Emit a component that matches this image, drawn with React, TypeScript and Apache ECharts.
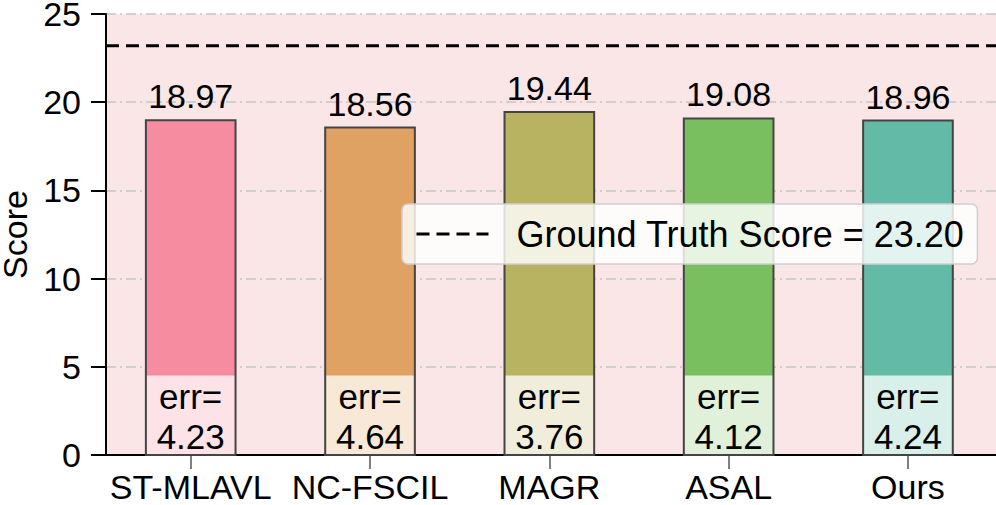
import React, { useEffect, useRef } from "react";
import * as echarts from "echarts";

const categories = ["ST-MLAVL", "NC-FSCIL", "MAGR", "ASAL", "Ours"];
const scores = [18.97, 18.56, 19.44, 19.08, 18.96];
const errors = [4.23, 4.64, 3.76, 4.12, 4.24];
const groundTruth = 23.2;
const errBoxTop = 4.5;
const barColors = ["#f68c9f", "#dfa262", "#b8b360", "#79bf60", "#63bba7"];
const boxColors = ["#fde2e8", "#f7e8d7", "#f0eedb", "#e1f1d9", "#d9efea"];
const yTicks = [0, 5, 10, 15, 20, 25];

const XMIN = -0.4724;
const XMAX = 4.491;
const FONT = "'Liberation Sans', Arial, Helvetica, sans-serif";

export default function App() {
  const ref = useRef<HTMLDivElement>(null);
  useEffect(() => {
    document.body.style.margin = "0";
    if (!ref.current) return;
    const chart = echarts.init(ref.current, null, { renderer: "svg" });
    const barData = scores.map((s, i) => [i, s, errors[i]]);
    const option: any = {
      animation: false,
      textStyle: { fontFamily: FONT },
      grid: {
        left: 106,
        right: 0,
        top: 14,
        bottom: 50,
        containLabel: false,
        outerBoundsMode: "none",
        show: true,
        backgroundColor: "#fae6e7",
        borderWidth: 0,
      },
      legend: {
        data: ["Ground Truth Score = 23.20"],
        left: 402,
        top: 204,
        backgroundColor: "rgba(255,255,255,0.82)",
        borderColor: "#cfcfcf",
        borderWidth: 1.5,
        borderRadius: 6,
        padding: [11, 13, 11, 13],
        itemWidth: 72,
        itemHeight: 14,
        itemStyle: { opacity: 0 },
        lineStyle: { color: "#000", width: 3, type: [13, 7] },
        textStyle: {
          fontSize: 36,
          color: "#000",
          fontFamily: FONT,
          lineHeight: 38,
          padding: [0, 0, 0, 23],
        },
      },
      xAxis: {
        type: "value",
        min: XMIN,
        max: XMAX,
        axisLine: { show: true, onZero: false, lineStyle: { color: "#000", width: 2 } },
        axisTick: {
          show: true,
          customValues: [0, 1, 2, 3, 4],
          length: 14,
          lineStyle: { color: "#555", width: 1.5 },
        },
        axisLabel: {
          customValues: [0, 1, 2, 3, 4],
          formatter: (v: number) => categories[Math.round(v)] ?? "",
          fontSize: 34,
          lineHeight: 34,
          color: "#000",
          fontFamily: FONT,
          margin: 15,
        },
        splitLine: { show: false },
      },
      yAxis: {
        type: "value",
        min: 0,
        max: 25,
        interval: 5,
        name: "Score",
        nameLocation: "middle",
        nameGap: 68,
        nameTextStyle: { fontSize: 34, lineHeight: 28, color: "#000", fontFamily: FONT },
        axisLine: { show: true, onZero: false, lineStyle: { color: "#000", width: 2 } },
        axisTick: { show: true, length: 15, lineStyle: { color: "#000", width: 2 } },
        axisLabel: {
          fontSize: 34,
          lineHeight: 26,
          color: "#000",
          fontFamily: FONT,
          margin: 25,
          formatter: (v: number) => (yTicks.includes(v) ? String(v) : ""),
        },
        splitLine: {
          show: true,
          lineStyle: { color: "#c6c6c6", width: 1.5, type: [10, 4, 2, 4] },
        },
      },
      series: [
        {
          type: "custom",
          name: "bars",
          data: barData,
          encode: { x: 0, y: 1 },
          z: 3,
          renderItem: (params: any, api: any) => {
            const x = api.value(0);
            const v = api.value(1);
            const err = api.value(2);
            const i = params.dataIndex;
            const tl = api.coord([x - 0.25, v]);
            const br = api.coord([x + 0.25, 0]);
            const bt = api.coord([x - 0.25, errBoxTop]);
            const w = br[0] - tl[0];
            const cx = (tl[0] + br[0]) / 2;
            return {
              type: "group",
              children: [
                {
                  type: "rect",
                  shape: { x: tl[0], y: tl[1], width: w, height: br[1] - tl[1] },
                  style: { fill: barColors[i], stroke: "none" },
                },
                {
                  type: "rect",
                  shape: { x: tl[0], y: bt[1], width: w, height: br[1] - bt[1] },
                  style: { fill: boxColors[i], stroke: "none" },
                },
                {
                  type: "rect",
                  shape: { x: tl[0], y: tl[1], width: w, height: br[1] - tl[1] },
                  style: { fill: "none", stroke: "#444", lineWidth: 2 },
                },
                {
                  type: "text",
                  x: cx,
                  y: tl[1] - 7,
                  style: {
                    text: v.toFixed(2),
                    fontSize: 34,
                    fontFamily: FONT,
                    fill: "#000",
                    align: "center",
                    verticalAlign: "bottom",
                  },
                },
                {
                  type: "text",
                  x: cx,
                  y: (bt[1] + br[1]) / 2 + 1,
                  style: {
                    text: "err=\n" + err.toFixed(2),
                    fontSize: 35,
                    lineHeight: 40,
                    fontFamily: FONT,
                    fill: "#000",
                    align: "center",
                    verticalAlign: "middle",
                  },
                },
              ],
            };
          },
        },
        {
          type: "line",
          name: "Ground Truth Score = 23.20",
          data: [
            [XMIN, groundTruth],
            [XMAX, groundTruth],
          ],
          symbol: "none",
          showSymbol: false,
          z: 4,
          lineStyle: { color: "#000", width: 3, type: [13, 7] },
          itemStyle: { color: "#000" },
        },
      ],
    };
    chart.setOption(option);
    return () => chart.dispose();
  }, []);
  return <div ref={ref} style={{ width: 996, height: 505 }} />;
}
